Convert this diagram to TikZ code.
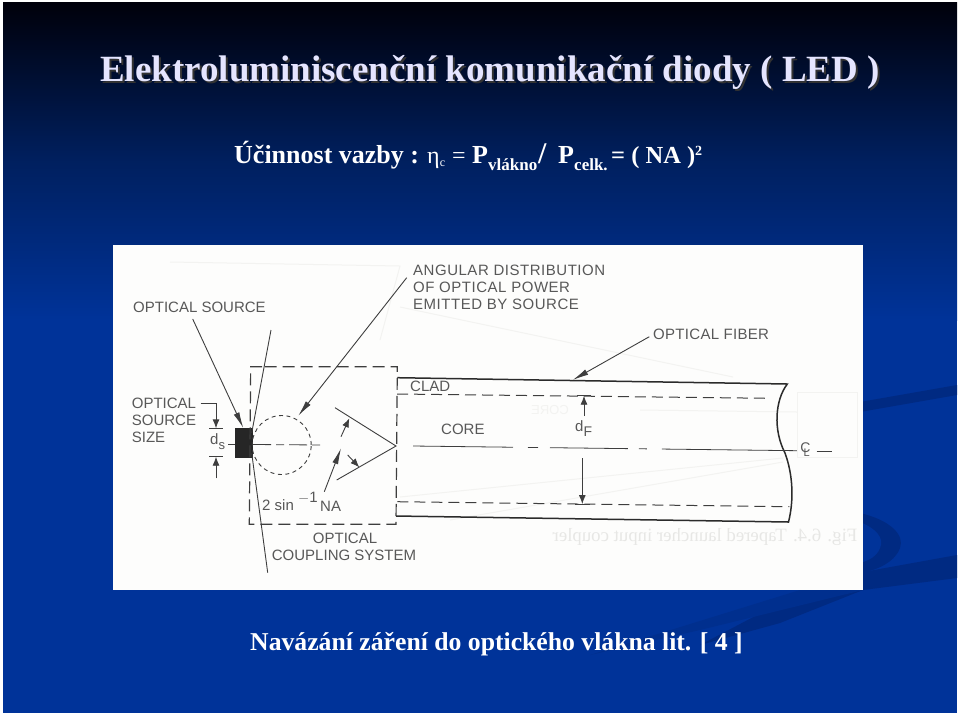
\documentclass[tikz,border=0pt]{standalone}
\usepackage{fontspec}
\setmainfont{Liberation Serif}
\newfontfamily\labelfont{Liberation Sans}
\usetikzlibrary{arrows.meta}
\definecolor{slideblue}{RGB}{0,51,153}
\definecolor{streak}{RGB}{0,42,130}
\definecolor{streaklight}{RGB}{0,47,142}
\definecolor{ink}{RGB}{62,62,62}
\definecolor{labelink}{RGB}{88,88,88}
\definecolor{paper}{RGB}{253,253,252}
\definecolor{ghost}{RGB}{243,243,241}
\tikzset{
  x=1pt,y=-1pt,
  inkline/.style={draw=ink,line width=0.9pt},
  bold line/.style={draw=ink!70!black,line width=1.5pt},
  dashline/.style={draw=ink,line width=1.2pt,dash pattern=on 12pt off 6pt},
  fibredash/.style={draw=ink,line width=1pt,dash pattern=on 11pt off 6pt},
  centerline/.style={draw=ink,line width=0.8pt},
  pointer/.style={inkline,-{Latex[length=16pt,width=6pt]}},
  smallhead/.style={inkline,-{Latex[length=9pt,width=7pt]}},
  lab/.style={text=labelink,font=\labelfont\fontsize{15}{15}\selectfont,inner sep=0pt,anchor=west},
  slidetext/.style={text=white,inner sep=0pt,anchor=base west},
  shadow text/.style={text=black!80,inner sep=0pt,anchor=base west},
  ghostline/.style={draw=ghost,line width=1pt},
}
\begin{document}
\begin{tikzpicture}
\useasboundingbox (0,0) rectangle (960,716);
\fill[white] (0,0) rectangle (960,716);
% slide background
\shade[top color=black!96!blue,bottom color=slideblue,middle color=slideblue!62!black] (3,2) rectangle (957,320);
\fill[slideblue] (3,320) rectangle (957,713);
\fill[streak] (957,385) -- (860,402) -- (860,412) -- (957,395) -- cycle;
\fill[streak] (860,513) .. controls (890,520) and (905,535) .. (900,548) .. controls (896,560) and (880,570) .. (860,573) -- cycle;
\fill[slideblue] (860,522) .. controls (875,528) and (885,538) .. (880,548) .. controls (877,556) and (870,560) .. (860,563) -- cycle;
\fill[streak] (957,555) -- (863,572) -- (780,603) -- (700,645) -- (780,623) -- (863,590) -- (957,578) -- cycle;
\fill[streaklight] (800,590) -- (590,655) -- (700,630) -- (863,590) -- cycle;
% title
\node[shadow text] (titleshadow) at (102,83) {\fontsize{37}{37}\selectfont\bfseries Elektroluminiscenční komunikační diody ( LED )};
\node[slidetext,text=white!90!blue] (title) at (100,81) {\fontsize{37}{37}\selectfont\bfseries Elektroluminiscenční komunikační diody ( LED )};
% formula
\node[slidetext] (formula) at (234,163) {\fontsize{26}{26}\selectfont\bfseries Účinnost vazby :};
\node[slidetext] (eta) at (427,163) {\fontsize{24}{24}\selectfont η\raisebox{-3pt}{\fontsize{12}{12}\selectfont c}};
\node[slidetext] (eq) at (452,163) {\fontsize{24}{24}\selectfont =};
\node[slidetext] (p1) at (472,163) {\fontsize{26}{26}\selectfont\bfseries P};
\node[slidetext] (p1s) at (488,170) {\fontsize{17}{17}\selectfont\bfseries vlákno};
\node[slidetext] (slash) at (538,163) {\fontsize{30}{30}\selectfont\bfseries /};
\node[slidetext] (p2) at (558,163) {\fontsize{26}{26}\selectfont\bfseries P};
\node[slidetext] (p2s) at (574,170) {\fontsize{17}{17}\selectfont\bfseries celk.};
\node[slidetext] (rest) at (611,163) {\fontsize{24.5}{24.5}\selectfont\bfseries = ( NA )\raisebox{8pt}{\fontsize{14}{14}\selectfont 2}};
% caption
\node[slidetext] (caption) at (250,650) {\fontsize{25.7}{25.7}\selectfont\bfseries Navázání záření do optického vlákna lit. [ 4 ]};
% panel
\fill[paper] (113,245) rectangle (863,590);
% show-through from the back of the page
\draw[ghostline] (400,307) -- (733,377);
\draw[ghostline] (400,497) -- (783,458);
\draw[ghostline] (450,520) -- (783,462);
\draw[ghostline] (797,392) -- (797,457) -- (857,457) -- (857,392) -- cycle;
\draw[ghostline] (170,262) -- (400,266) -- (380,340);
\draw[ghostline] (640,410) -- (797,412);
\node[inner sep=0pt,text=ghost!95!black,xscale=-1,font=\fontsize{18.8}{18.8}\selectfont] (figghost) at (705,537) {Fig. 6.4. Tapered launcher input coupler};
\node[inner sep=0pt,text=ghost,xscale=-1,font=\labelfont\fontsize{13}{13}\selectfont] (coreghost) at (550,410) {CORE};
% source
\fill[black!85] (235.3,428.3) rectangle (252.7,458.3);
\coordinate (srcN) at (243.3,428);
\coordinate (srcTop) at (251.7,433);
\coordinate (srcBot) at (251.7,453);
\coordinate (raytop) at (271,330);
\coordinate (raybot) at (267.7,572.7);
\draw[inkline] (srcTop) -- (raytop);
\draw[inkline] (srcBot) -- (raybot);
\node[lab] (srclabel) at (133,307) {OPTICAL SOURCE};
\coordinate (srcfrom) at (192.7,319);
\draw[pointer] (srcfrom) -- (srcN);
\node[lab] (sizea) at (131.7,403) {OPTICAL};
\node[lab] (sizeb) at (131.7,420) {SOURCE};
\node[lab] (sizec) at (131.7,437) {SIZE};
\coordinate (l1) at (200.7,403.3);
\coordinate (l2) at (216,403.3);
\coordinate (l3) at (216,428.3);
\draw[smallhead] (l1) -- (l2) -- (l3);
\coordinate (t1) at (209.3,428.3); \coordinate (t2) at (223.3,428.3);
\coordinate (t3) at (209.3,456.7); \coordinate (t4) at (223.3,456.7);
\draw[inkline] (t1) -- (t2);
\draw[inkline] (t3) -- (t4);
\coordinate (l4) at (216,478.3);
\coordinate (l5) at (216,456.7);
\draw[smallhead] (l4) -- (l5);
\node[lab] (ds) at (210,442) {d\raisebox{-5pt}{\fontsize{13}{13}\selectfont s}};
\coordinate (m1) at (228,444); \coordinate (m2) at (235.3,444);
\draw[inkline] (m1) -- (m2);
% coupling box
\draw[dashline] (262,366.7) -- (250.7,366.7) -- (249.3,524.3) -- (396,524.3) -- (397.3,366.7) -- cycle;
% circle
\node[circle,draw=ink,line width=0.9pt,dash pattern=on 4pt off 3.5pt,minimum size=59pt,inner sep=0pt] (lobe) at (281.7,445) {};
\coordinate (c1) at (253,444.5); \coordinate (c2) at (321.7,445);
\draw[centerline,dash pattern=on 18pt off 5pt on 8pt off 5pt] (c1) -- (c2);
\coordinate (a1) at (406.7,277.7); \coordinate (a2) at (298.3,415.7);
\draw[pointer] (a1) -- (a2);
\node[lab] (anga) at (413,270.7) {\addfontfeature{LetterSpace=3.5}ANGULAR DISTRIBUTION};
\node[lab] (angb) at (413,287.3) {\addfontfeature{LetterSpace=3.5}OF OPTICAL POWER};
\node[lab] (angc) at (413,304) {\addfontfeature{LetterSpace=3.5}EMITTED BY SOURCE};
% cone
\coordinate (apex) at (396,446);
\coordinate (coneU) at (335,407.7);
\coordinate (coneL) at (336.7,480);
\draw[inkline] (coneU) -- (apex) -- (coneL);
\coordinate (u1) at (341,436.7); \coordinate (u2) at (349.3,418.3);
\draw[smallhead] (u1) -- (u2);
\coordinate (b1) at (324.3,491.7); \coordinate (b2) at (341,448.3);
\draw[pointer] (b1) -- (b2);
\coordinate (d1) at (347.7,455); \coordinate (d2) at (359.3,467.3);
\draw[smallhead] (d1) -- (d2);
\node[lab] (sinlab) at (262,505) {2 sin};
\node[lab] (minus) at (298,498) {$-$1};
\node[lab] (na) at (320,506) {NA};
\node[lab,anchor=center] (cpa) at (345,538.3) {OPTICAL};
\node[lab,anchor=center] (cpb) at (344,555) {COUPLING SYSTEM};
% fibre
\coordinate (ft0) at (397.3,377.7); \coordinate (ft1) at (787.3,384);
\coordinate (fb0) at (396,516); \coordinate (fb1) at (788.5,522);
\draw[bold line] (ft0) -- (ft1) .. controls (775,400) and (773,430) .. (785,453) .. controls (793,475) and (794,500) .. (fb1) -- (fb0);
\coordinate (dt0) at (397,394); \coordinate (dt1) at (770,398.3);
\coordinate (db0) at (397.3,501.7); \coordinate (db1) at (789.3,506.7);
\draw[fibredash] (dt0) -- (dt1);
\draw[fibredash] (db0) -- (db1);
\coordinate (cl0) at (413,446); \coordinate (cl1) at (798,450.7);
\draw[centerline,dash pattern=on 100pt off 15pt on 10pt off 12pt on 78pt off 11pt on 8pt off 15pt on 135pt] (cl0) -- (cl1);
\node[text=labelink,inner sep=0pt,font=\labelfont\fontsize{14}{14}\selectfont] (cl) at (805,450) {C\raisebox{-4pt}{\kern-7pt\fontsize{11}{11}\selectfont L}};
\coordinate (cl2) at (816.7,451.7); \coordinate (cl3) at (831.7,451.7);
\draw[inkline] (cl2) -- (cl3);
\node[lab] (clad) at (410,386) {CLAD};
\node[lab] (core) at (441,429) {CORE};
\node[lab] (df) at (575,429) {d\raisebox{-5pt}{\fontsize{14}{14}\selectfont F}};
\coordinate (e1) at (584,416); \coordinate (e2) at (584,395.7);
\coordinate (e3) at (582.3,458.3); \coordinate (e4) at (582.3,504);
\coordinate (e5) at (577,395.7); \coordinate (e6) at (591,395.7);
\coordinate (e7) at (575,504); \coordinate (e8) at (590,504);
\draw[inkline] (e5) -- (e6);
\draw[inkline] (e7) -- (e8);
\draw[smallhead] (e1) -- (e2);
\draw[smallhead] (e3) -- (e4);
\coordinate (f1) at (649.3,336.7); \coordinate (f2) at (572.7,380);
\draw[pointer] (f1) -- (f2);
\node[lab] (fiber) at (653,334) {\addfontfeature{LetterSpace=2}OPTICAL FIBER};
\end{tikzpicture}
\end{document}
